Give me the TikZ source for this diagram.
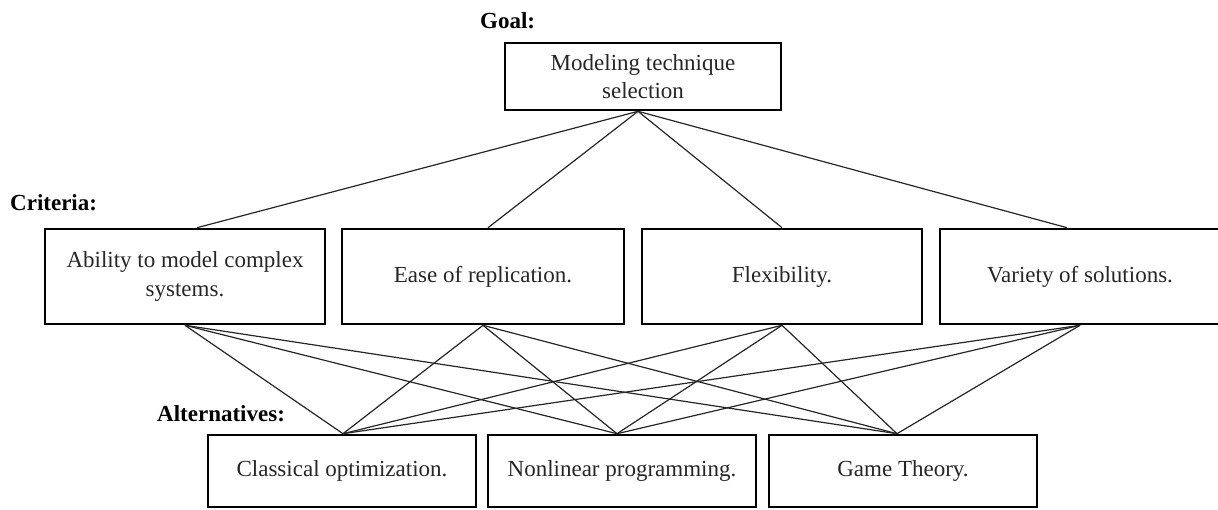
\documentclass[tikz,border=0pt]{standalone}
\usepackage{fontspec}
\setmainfont{Liberation Serif}
\usetikzlibrary{calc}
\begin{document}
\begin{tikzpicture}[x=1pt,y=-1pt,
  box/.style={draw=black,line width=2.6pt,rectangle,align=center,inner sep=2pt,
    font=\fontsize{23}{29}\selectfont,text=black!85},
  critbox/.style={box,minimum width=280pt,minimum height=95pt},
  altbox/.style={box,minimum width=268pt,minimum height=72pt},
  lvl/.style={anchor=base west,inner sep=0pt,font=\fontsize{23}{27}\selectfont\bfseries},
  link/.style={draw=black!85,line width=1.2pt}]
\useasboundingbox (0,0) rectangle (1218,509);
% level labels
\node[lvl] (lgoal) at (480,28) {Goal:};
\node[lvl] (lcrit) at (10,210) {Criteria:};
\node[lvl] (lalt) at (157,421) {Alternatives:};
% goal
\node[box,minimum width=276pt,minimum height=67pt,font=\fontsize{23}{28}\selectfont] (g) at (643,76.5) {Modeling technique\\selection};
% criteria
\node[critbox] (c1) at (185,276.5) {Ability to model complex\\systems.};
\node[critbox,minimum width=282pt] (c2) at (483,276.5) {Ease of replication.};
\node[critbox] (c3) at (782,276.5) {Flexibility.};
\node[critbox] (c4) at (1080,276.5) {Variety of solutions.};
% alternatives
\node[altbox] (a1) at (342,471) {Classical optimization.};
\node[altbox] (a2) at (622,471) {Nonlinear programming.};
\node[altbox] (a3) at (903,471) {Game Theory.};
% goal to criteria
\coordinate (gs) at ($(g.south)+(-5,0)$);
\draw[link] (gs) -- ($(c1.north)+(12,0)$);
\draw[link] (gs) -- ($(c2.north)+(5,0)$);
\draw[link] (gs) -- (c3.north);
\draw[link] (gs) -- ($(c4.north)+(-13,0)$);
% criteria to alternatives
\coordinate (p1) at ($(a1.north)+(1,0)$);
\coordinate (p2) at ($(a2.north)+(-5,0)$);
\coordinate (p3) at ($(a3.north)+(-6,0)$);
\foreach \c in {c1,c2,c3,c4}{
  \foreach \p in {p1,p2,p3}{
    \draw[link] (\c.south) -- (\p);
  }
}
\end{tikzpicture}
\end{document}
